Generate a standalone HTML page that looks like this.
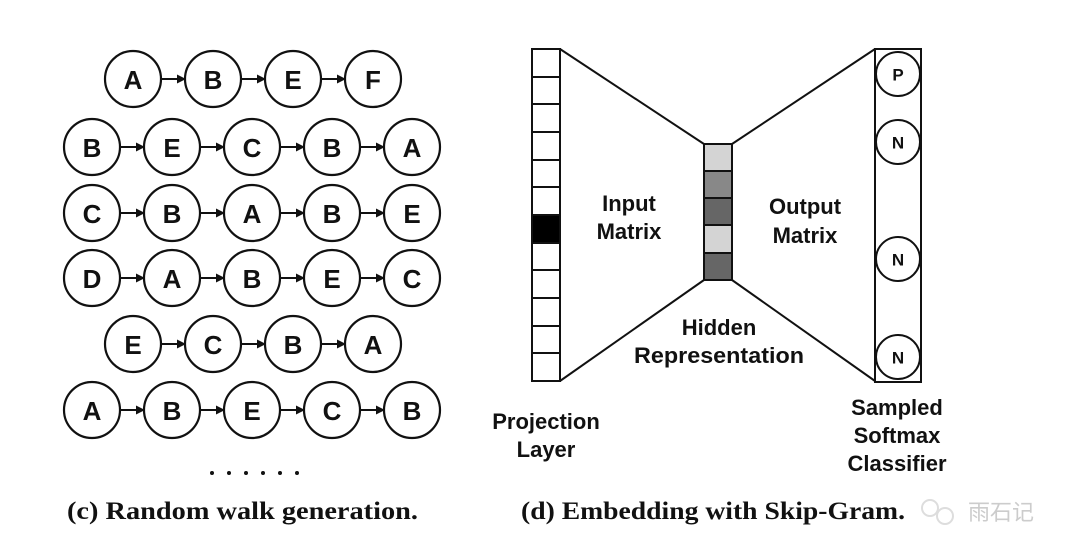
<!DOCTYPE html>
<html><head><meta charset="utf-8"><style>
html,body{margin:0;padding:0;background:#fff;width:1080px;height:559px;overflow:hidden}
svg{display:block}
.n{font:bold 26px "Liberation Sans",sans-serif;text-anchor:middle;dominant-baseline:central}
.l{font:bold 22px "Liberation Sans",sans-serif;text-anchor:middle}
.s{font:bold 17px "Liberation Sans",sans-serif;text-anchor:middle;dominant-baseline:central}
.c{font:bold 25px "Liberation Serif",serif}
</style></head><body>
<svg width="1080" height="559" viewBox="0 0 1080 559" xmlns="http://www.w3.org/2000/svg">
<defs><marker id="a" markerWidth="9" markerHeight="9" refX="8" refY="4.5" orient="auto" markerUnits="userSpaceOnUse"><path d="M0,0 L9,4.5 L0,9 z" fill="#111"/></marker></defs>
<g fill="#fff" stroke="#111" stroke-width="2.2">
<circle cx="133" cy="79" r="28"/><circle cx="213" cy="79" r="28"/><circle cx="293" cy="79" r="28"/><circle cx="373" cy="79" r="28"/>
<circle cx="92" cy="147" r="28"/><circle cx="172" cy="147" r="28"/><circle cx="252" cy="147" r="28"/><circle cx="332" cy="147" r="28"/><circle cx="412" cy="147" r="28"/>
<circle cx="92" cy="213" r="28"/><circle cx="172" cy="213" r="28"/><circle cx="252" cy="213" r="28"/><circle cx="332" cy="213" r="28"/><circle cx="412" cy="213" r="28"/>
<circle cx="92" cy="278" r="28"/><circle cx="172" cy="278" r="28"/><circle cx="252" cy="278" r="28"/><circle cx="332" cy="278" r="28"/><circle cx="412" cy="278" r="28"/>
<circle cx="133" cy="344" r="28"/><circle cx="213" cy="344" r="28"/><circle cx="293" cy="344" r="28"/><circle cx="373" cy="344" r="28"/>
<circle cx="92" cy="410" r="28"/><circle cx="172" cy="410" r="28"/><circle cx="252" cy="410" r="28"/><circle cx="332" cy="410" r="28"/><circle cx="412" cy="410" r="28"/>
</g>
<g stroke="#111" stroke-width="2" marker-end="url(#a)">
<line x1="161" y1="79" x2="185" y2="79"/><line x1="241" y1="79" x2="265" y2="79"/><line x1="321" y1="79" x2="345" y2="79"/>
<line x1="161" y1="344" x2="185" y2="344"/><line x1="241" y1="344" x2="265" y2="344"/><line x1="321" y1="344" x2="345" y2="344"/>
<line x1="120" y1="147" x2="144" y2="147"/><line x1="200" y1="147" x2="224" y2="147"/><line x1="280" y1="147" x2="304" y2="147"/><line x1="360" y1="147" x2="384" y2="147"/>
<line x1="120" y1="213" x2="144" y2="213"/><line x1="200" y1="213" x2="224" y2="213"/><line x1="280" y1="213" x2="304" y2="213"/><line x1="360" y1="213" x2="384" y2="213"/>
<line x1="120" y1="278" x2="144" y2="278"/><line x1="200" y1="278" x2="224" y2="278"/><line x1="280" y1="278" x2="304" y2="278"/><line x1="360" y1="278" x2="384" y2="278"/>
<line x1="120" y1="410" x2="144" y2="410"/><line x1="200" y1="410" x2="224" y2="410"/><line x1="280" y1="410" x2="304" y2="410"/><line x1="360" y1="410" x2="384" y2="410"/>
</g>
<g class="n" fill="#111">
<text x="133" y="80">A</text><text x="213" y="80">B</text><text x="293" y="80">E</text><text x="373" y="80">F</text>
<text x="92" y="148">B</text><text x="172" y="148">E</text><text x="252" y="148">C</text><text x="332" y="148">B</text><text x="412" y="148">A</text>
<text x="92" y="214">C</text><text x="172" y="214">B</text><text x="252" y="214">A</text><text x="332" y="214">B</text><text x="412" y="214">E</text>
<text x="92" y="279">D</text><text x="172" y="279">A</text><text x="252" y="279">B</text><text x="332" y="279">E</text><text x="412" y="279">C</text>
<text x="133" y="345">E</text><text x="213" y="345">C</text><text x="293" y="345">B</text><text x="373" y="345">A</text>
<text x="92" y="411">A</text><text x="172" y="411">B</text><text x="252" y="411">E</text><text x="332" y="411">C</text><text x="412" y="411">B</text>
</g>
<g fill="#111"><circle cx="212" cy="473" r="2"/><circle cx="229" cy="473" r="2"/><circle cx="246" cy="473" r="2"/><circle cx="263" cy="473" r="2"/><circle cx="280" cy="473" r="2"/><circle cx="297" cy="473" r="2"/></g>

<g stroke="#111" stroke-width="2" fill="#fff">
<line x1="560" y1="49" x2="704" y2="144"/><line x1="560" y1="381" x2="704" y2="280"/>
<line x1="732" y1="144" x2="875" y2="49"/><line x1="732" y1="280" x2="875" y2="381"/>
<rect x="532" y="49" width="28" height="332"/>
<line x1="532" y1="77" x2="560" y2="77"/><line x1="532" y1="104" x2="560" y2="104"/><line x1="532" y1="132" x2="560" y2="132"/><line x1="532" y1="160" x2="560" y2="160"/><line x1="532" y1="187" x2="560" y2="187"/><line x1="532" y1="215" x2="560" y2="215"/><line x1="532" y1="243" x2="560" y2="243"/><line x1="532" y1="270" x2="560" y2="270"/><line x1="532" y1="298" x2="560" y2="298"/><line x1="532" y1="326" x2="560" y2="326"/><line x1="532" y1="353" x2="560" y2="353"/>
<rect x="532" y="215" width="28" height="28" fill="#000"/>
<rect x="704" y="144" width="28" height="27" fill="#d4d4d4"/>
<rect x="704" y="171" width="28" height="27" fill="#888"/>
<rect x="704" y="198" width="28" height="27" fill="#666"/>
<rect x="704" y="225" width="28" height="28" fill="#d4d4d4"/>
<rect x="704" y="253" width="28" height="27" fill="#666"/>
<rect x="875" y="49" width="46" height="333"/>
<circle cx="898" cy="74" r="22"/><circle cx="898" cy="142" r="22"/><circle cx="898" cy="259" r="22"/><circle cx="898" cy="357" r="22"/>
</g>
<g class="s" fill="#111"><text x="898" y="75">P</text><text x="898" y="143">N</text><text x="898" y="260">N</text><text x="898" y="358">N</text></g>
<g class="l" fill="#111">
<text x="629" y="211">Input</text><text x="629" y="239">Matrix</text>
<text x="805" y="214">Output</text><text x="805" y="243">Matrix</text>
<text x="719" y="335">Hidden</text><text x="719" y="363" textLength="170" lengthAdjust="spacingAndGlyphs">Representation</text>
<text x="546" y="429">Projection</text><text x="546" y="457">Layer</text>
<text x="897" y="415">Sampled</text><text x="897" y="443">Softmax</text><text x="897" y="471">Classifier</text>
</g>
<text class="c" x="67" y="519" fill="#111" textLength="351" lengthAdjust="spacingAndGlyphs">(c) Random walk generation.</text>
<text class="c" x="521" y="519" fill="#111" textLength="384" lengthAdjust="spacingAndGlyphs">(d) Embedding with Skip-Gram.</text>
<text x="968" y="520" font-family="'Liberation Sans','Noto Sans CJK SC',sans-serif" font-size="22" fill="#ccc">雨石记</text>
<g fill="none" stroke="#ddd" stroke-width="2"><circle cx="930" cy="508" r="8"/><circle cx="945" cy="516" r="8"/></g>
</svg>
</body></html>
